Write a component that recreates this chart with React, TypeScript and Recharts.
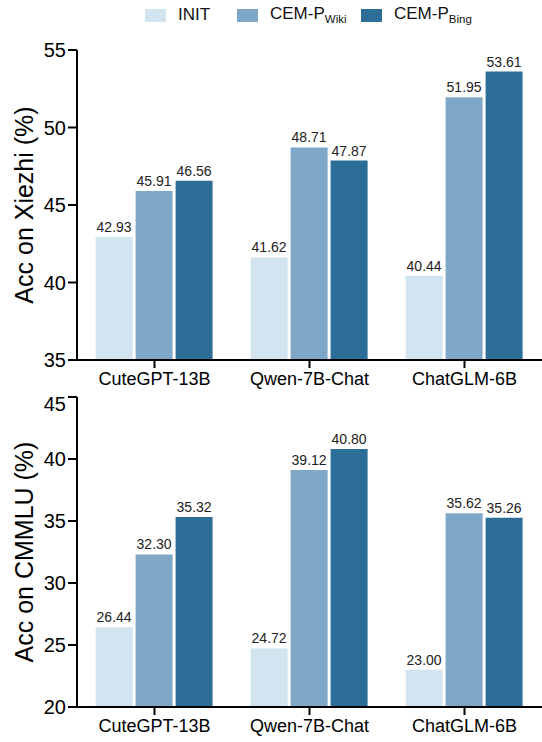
import React from 'react';
import { BarChart, Bar, XAxis, YAxis, LabelList, Label } from 'recharts';

const MODELS = ['CuteGPT-13B', 'Qwen-7B-Chat', 'ChatGLM-6B'];
const XIEZHI_INIT = [42.93, 41.62, 40.44];
const XIEZHI_WIKI = [45.91, 48.71, 51.95];
const XIEZHI_BING = [46.56, 47.87, 53.61];
const CMMLU_INIT = [26.44, 24.72, 23.0];
const CMMLU_WIKI = [32.3, 39.12, 35.62];
const CMMLU_BING = [35.32, 40.8, 35.26];
const XIEZHI_TICKS = [35, 40, 45, 50, 55];
const CMMLU_TICKS = [20, 25, 30, 35, 40, 45];

const COLORS = {
    init: '#d3e4f1',
    wiki: '#7fa7c8',
    bing: '#2d6e98',
};

const FONT = '"Liberation Sans", Arial, sans-serif';

const buildRows = (init: number[], wiki: number[], bing: number[]) =>
    MODELS.map((name, i) => ({ name, init: init[i], wiki: wiki[i], bing: bing[i] }));

const xiezhiData = buildRows(XIEZHI_INIT, XIEZHI_WIKI, XIEZHI_BING);
const cmmluData = buildRows(CMMLU_INIT, CMMLU_WIKI, CMMLU_BING);

const axisLine = { stroke: '#000', strokeWidth: 2 };
const valueLabel = { fontSize: 14, fill: '#222', fontFamily: FONT };
const fmt = (v: any) => Number(v).toFixed(2);

interface PanelProps {
    data: any[];
    ticks: number[];
    label: string;
    height: number;
    marginTop: number;
}

const Panel: React.FC<PanelProps> = ({ data, ticks, label, height, marginTop }) => (
    <BarChart
        width={542}
        height={height}
        data={data}
        margin={{ top: marginTop, right: 0, left: 0, bottom: 0 }}
        barCategoryGap="12%"
        barGap={3}
    >
        <XAxis
            dataKey="name"
            height={34}
            axisLine={axisLine}
            tickLine={axisLine}
            tickSize={8}
            tickMargin={4}
            tick={{ fill: '#000', fontSize: 18, fontFamily: FONT }}
        />
        <YAxis
            width={77}
            domain={[ticks[0], ticks[ticks.length - 1]]}
            ticks={ticks}
            allowDataOverflow
            axisLine={axisLine}
            tickLine={axisLine}
            tickSize={9}
            tickMargin={2}
            tick={{ fill: '#000', fontSize: 20, fontFamily: FONT }}
        >
            <Label
                value={label}
                angle={-90}
                position="insideLeft"
                offset={24}
                style={{ textAnchor: 'middle', fontSize: 25, fill: '#000', fontFamily: FONT }}
            />
        </YAxis>
        <Bar dataKey="init" fill={COLORS.init} isAnimationActive={false}>
            <LabelList dataKey="init" position="top" offset={5} formatter={fmt} style={valueLabel} />
        </Bar>
        <Bar dataKey="wiki" fill={COLORS.wiki} isAnimationActive={false}>
            <LabelList dataKey="wiki" position="top" offset={5} formatter={fmt} style={valueLabel} />
        </Bar>
        <Bar dataKey="bing" fill={COLORS.bing} isAnimationActive={false}>
            <LabelList dataKey="bing" position="top" offset={5} formatter={fmt} style={valueLabel} />
        </Bar>
    </BarChart>
);

const legendItems = [
    { left: 145, color: COLORS.init, main: 'INIT', sub: '' },
    { left: 237, color: COLORS.wiki, main: 'CEM-P', sub: 'Wiki' },
    { left: 361, color: COLORS.bing, main: 'CEM-P', sub: 'Bing' },
];

export default function App() {
    return (
        <div style={{ position: 'absolute', top: 0, left: 0, width: 542, height: 742, background: '#fff', fontFamily: FONT }}>
            {/* legend */}
            {legendItems.map((it) => (
                <div key={it.left} style={{ position: 'absolute', top: 5, left: it.left, display: 'flex', alignItems: 'center', height: 20 }}>
                    <div style={{ width: 21, height: 13, background: it.color }} />
                    <span style={{ marginLeft: 12, fontSize: 17, color: '#111', whiteSpace: 'nowrap' }}>
                        {it.main}
                        {it.sub && <sub style={{ fontSize: 11.5 }}>{it.sub}</sub>}
                    </span>
                </div>
            ))}
            <div style={{ position: 'absolute', top: 0, left: 0 }}>
                <Panel data={xiezhiData} ticks={XIEZHI_TICKS} label="Acc on Xiezhi (%)" height={394} marginTop={50} />
            </div>
            <div style={{ position: 'absolute', top: 392, left: 0 }}>
                <Panel data={cmmluData} ticks={CMMLU_TICKS} label="Acc on CMMLU (%)" height={349} marginTop={5} />
            </div>
        </div>
    );
}
